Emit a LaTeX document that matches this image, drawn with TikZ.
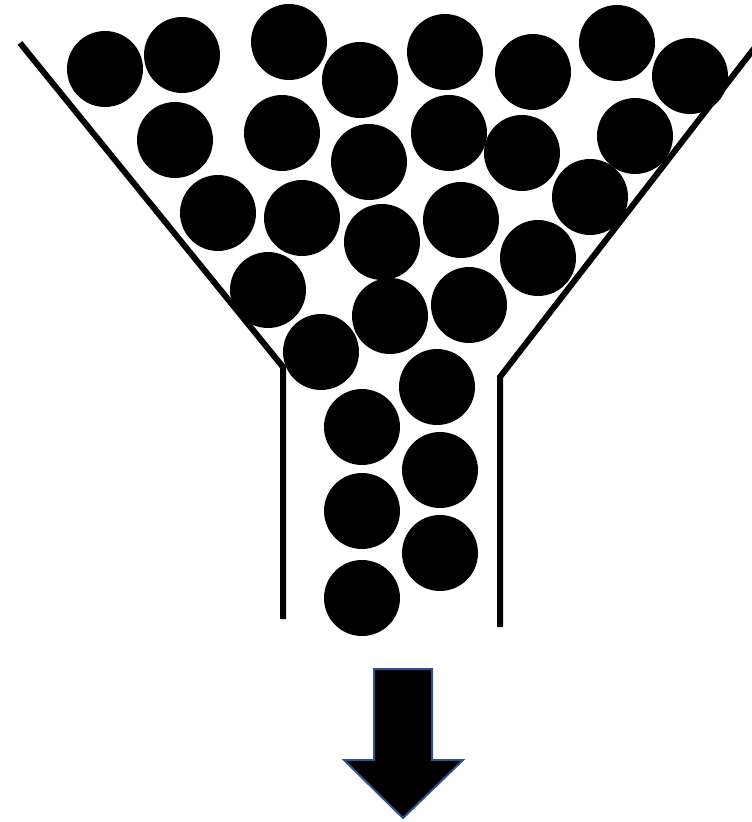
\documentclass[tikz,border=0pt]{standalone}
\usepackage{tikz}
\usetikzlibrary{calc}

\definecolor{arrowedge}{HTML}{2F528F}

\tikzset{
  ball/.style={fill=black},
  wall/.style={line width=0.12cm},
}

\begin{document}
\begin{tikzpicture}[x=0.02cm,y=-0.02cm]
  \useasboundingbox (0,0) rectangle (751,822);
  % funnel
  \draw[wall] (20,43) -- (283,367) -- (283,619);
  \draw[wall] (756,46) -- (500,377) -- (500,627);
  % balls in the cone
  \foreach \x/\y in {105/69,182/55,289/42,360/80,445/52,533/72,617/43,690/76,
                     175/140,282/133,369/162,449/133,522/153,635/136,
                     218/213,302/218,382/242,461/220,590/197,538/258,
                     268/290,390/316,469/305,
                     321/352,437/387}
    \fill[ball] (\x,\y) circle [radius=0.76cm];
  % balls in the tube
  \foreach \x/\y in {362/427,440/470,362/511,440/553,362/598}
    \fill[ball] (\x,\y) circle [radius=0.76cm];
  % arrow
  \filldraw[fill=black,draw=arrowedge,line width=0.04cm,line join=miter]
    (374,669) -- (432,669) -- (432,760) -- (463,760) -- (403,818)
    -- (344,760) -- (374,760) -- cycle;
\end{tikzpicture}
\end{document}
